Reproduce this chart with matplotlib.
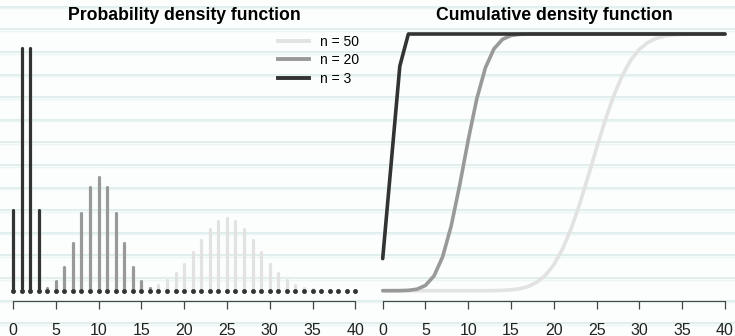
import matplotlib.pyplot as plt
import numpy as np

plt.rcParams['font.family'] = ['Liberation Sans', 'DejaVu Sans']

# values, x = 0..40
x = list(range(41))
labels = ['n = 50', 'n = 20', 'n = 3']
colors = ['#e2e2e2', '#999999', '#333333']

pdf_n50 = [0] * 10 + [0.00001, 0.00003, 0.0001, 0.0003, 0.0008, 0.0020, 0.0044, 0.0087,
                      0.0160, 0.0270, 0.0419, 0.0598, 0.0788, 0.0960, 0.1080, 0.1123,
                      0.1080, 0.0960, 0.0788, 0.0598, 0.0419, 0.0270, 0.0160, 0.0087,
                      0.0044, 0.0020, 0.0008, 0.0003, 0.0001, 0.00003, 0.00001]
pdf_n20 = [0.000001, 0.00002, 0.0002, 0.0011, 0.0046, 0.0148, 0.0370, 0.0739, 0.1201,
           0.1602, 0.1762, 0.1602, 0.1201, 0.0739, 0.0370, 0.0148, 0.0046, 0.0011,
           0.0002, 0.00002, 0.000001] + [0] * 20
pdf_n3 = [0.125, 0.375, 0.375, 0.125] + [0] * 37

cdf_n50 = [0] * 11 + [0.00004, 0.00014, 0.0005, 0.0013, 0.0033, 0.0077, 0.0164, 0.0325,
                      0.0595, 0.1013, 0.1611, 0.2399, 0.3359, 0.4439, 0.5561, 0.6641,
                      0.7601, 0.8389, 0.8987, 0.9405, 0.9675, 0.9836, 0.9923, 0.9967,
                      0.9987, 0.9995, 0.9998] + [1] * 3
cdf_n20 = [0.000001, 0.00002, 0.0002, 0.0013, 0.0059, 0.0207, 0.0577, 0.1316, 0.2517,
           0.4119, 0.5881, 0.7483, 0.8684, 0.9423, 0.9793, 0.9941, 0.9987, 0.9998,
           1.0] + [1] * 22
cdf_n3 = [0.125, 0.5, 0.875] + [1] * 38

pdfs = [pdf_n50, pdf_n20, pdf_n3]
cdfs = [cdf_n50, cdf_n20, cdf_n3]

W, H = 735, 336
fig = plt.figure(figsize=(W / 100, H / 100), dpi=100, facecolor='#fbfefd')

# lined paper background
bg = fig.add_axes([0, 0, 1, 1], zorder=0)
bg.set_xlim(0, W)
bg.set_ylim(H, 0)
bg.axis('off')
for yy in np.arange(6.7, H, 22.6):
    bg.axhline(yy, color='#dbecec', lw=1.2)
    bg.axhline(yy + 1.6, color='#ebf6f5', lw=1.0)


def px_axes(x0, x1, y_top, y_bot):
    return fig.add_axes([x0 / W, 1 - y_bot / H, (x1 - x0) / W, (y_bot - y_top) / H], zorder=1)


def style(ax):
    ax.patch.set_visible(False)
    for s in ['left', 'top', 'right']:
        ax.spines[s].set_visible(False)
    ax.spines['bottom'].set_bounds(0, 40)
    ax.spines['bottom'].set_color('#444444')
    ax.set_yticks([])
    ax.set_xticks(range(0, 41, 5))
    ax.tick_params(axis='x', direction='out', length=6, width=0.9, color='#444444',
                   labelsize=11.5, labelcolor='#222222', pad=9.5)


sx = 8.5575  # pixels per x unit
# left panel: pdf
ax1 = px_axes(0, 367, 23.7, 301)
ax1.set_xlim(-13 / sx, (367 - 13) / sx)
ax1.set_ylim(-(301 - 290.7) / 647.2, (290.7 - 23.7) / 647.2)
style(ax1)
for y, c, lab in zip(pdfs, colors, labels):
    lc = ax1.vlines(x, 0, y, colors=c, lw=2.3)
    lc.set_capstyle('round')
    ax1.plot(x, [0] * len(x), 'o', color=c, ms=3.4, mew=0)
    ax1.plot([], [], color=c, lw=2.8, label=lab)
ax1.text(184 / 367, 1 + (23.7 - 15.5) / 277.3, 'Probability density function',
         transform=ax1.transAxes, ha='center', va='center', fontsize=12.7, fontweight='bold')
ax1.legend(loc='upper left', bbox_to_anchor=(278 / 367, 1 - (34.5 - 23.7) / 277.3),
           frameon=False, fontsize=10, handlelength=2.2, handletextpad=0.85,
           labelspacing=0.33, borderpad=0, borderaxespad=0)

# right panel: cdf
ax2 = px_axes(369, 735, 23.7, 301)
ax2.set_xlim((369 - 382.7) / sx, (735 - 382.7) / sx)
ax2.set_ylim(-(301 - 290.7) / 256.7, (290.7 - 23.7) / 256.7)
style(ax2)
for y, c in zip(cdfs, colors):
    ax2.plot(x, y, color=c, lw=2.6, solid_capstyle='round', solid_joinstyle='round')
ax2.text((554 - 369) / 366, 1 + (23.7 - 15.5) / 277.3, 'Cumulative density function',
         transform=ax2.transAxes, ha='center', va='center', fontsize=12.7, fontweight='bold')

fig.savefig('out.png', dpi=100, facecolor=fig.get_facecolor())
